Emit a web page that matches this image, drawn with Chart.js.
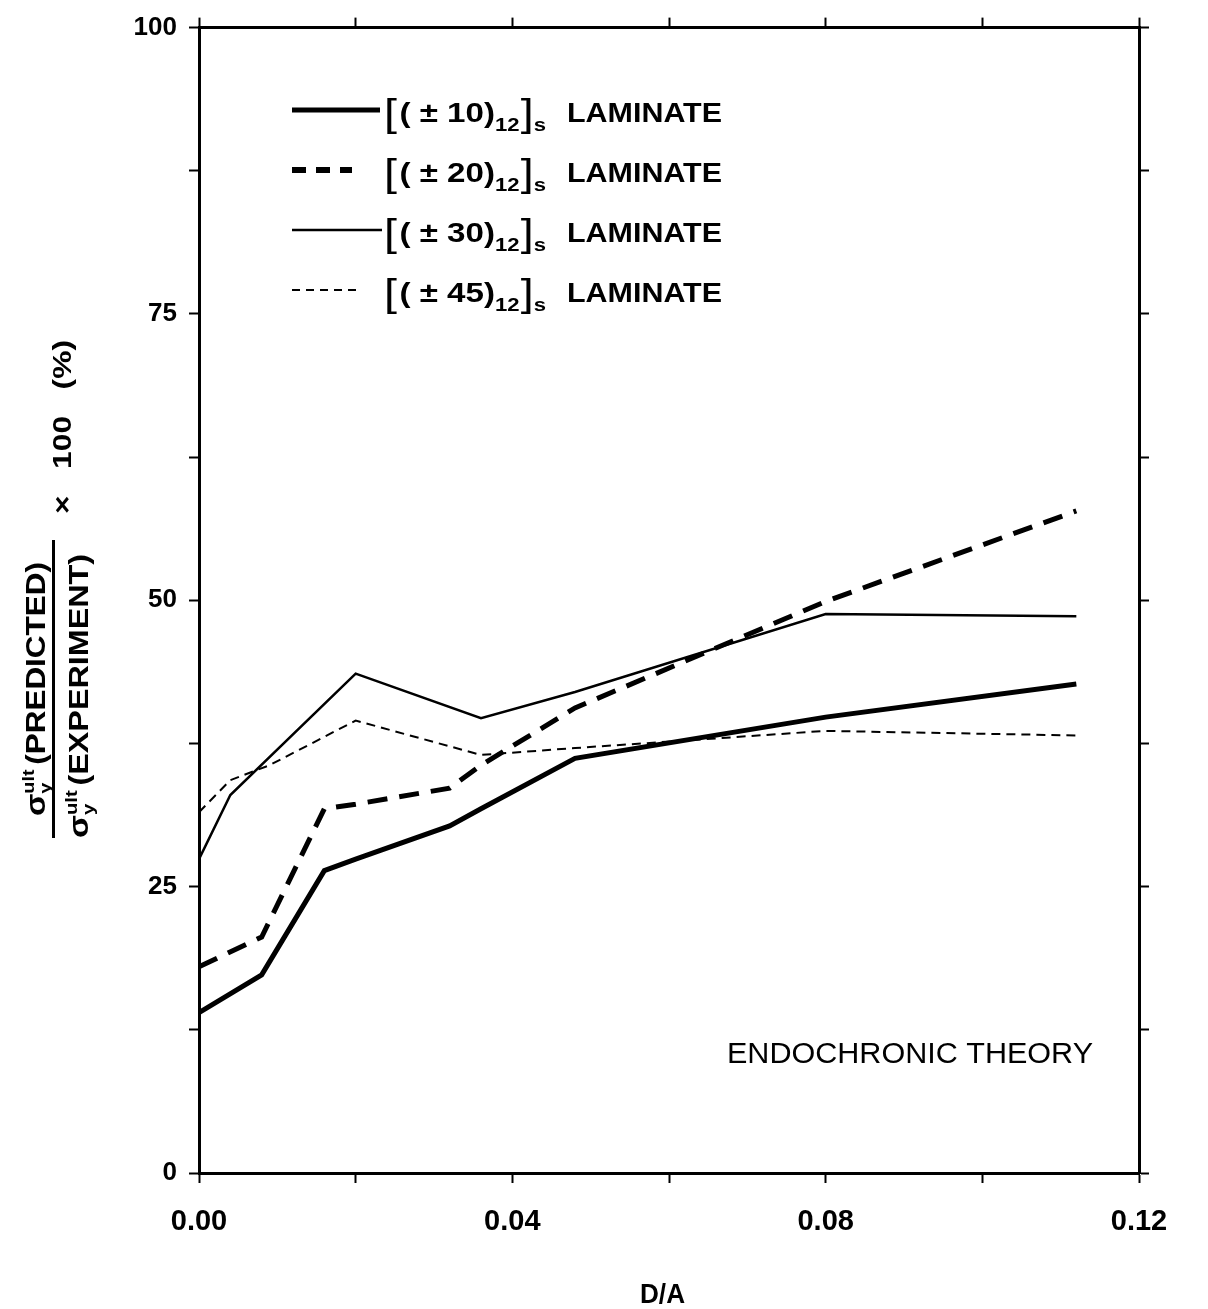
<!DOCTYPE html>
<html>
<head>
<meta charset="utf-8">
<script src="https://cdn.jsdelivr.net/npm/chart.js@4.4.1/dist/chart.umd.min.js"></script>
<style>
  html, body { margin: 0; padding: 0; background: #fff; }
  #wrap { width: 1208px; height: 1309px; position: relative; }
  canvas { display: block; }
</style>
</head>
<body>
<div id="wrap"><canvas id="c" width="1208" height="1309"></canvas></div>
<script>
// ---------- DATA ----------
const angles = ['10', '20', '30', '45'];

const x10 = [0.000, 0.008, 0.016, 0.020, 0.032, 0.036, 0.048, 0.080, 0.112];
const y10 = [14.0, 17.3, 26.4, 27.4, 30.3, 31.8, 36.2, 39.8, 42.7];

const x20 = [0.000, 0.008, 0.016, 0.020, 0.032, 0.036, 0.048, 0.080, 0.112];
const y20 = [18.0, 20.6, 31.8, 32.2, 33.6, 35.6, 40.6, 49.9, 57.8];

const x30 = [0.000, 0.004, 0.020, 0.036, 0.048, 0.080, 0.112];
const y30 = [27.4, 33.0, 43.6, 39.7, 42.0, 48.8, 48.6];

const x45 = [0.000, 0.004, 0.009, 0.020, 0.036, 0.048, 0.080, 0.112];
const y45 = [31.5, 34.3, 35.6, 39.5, 36.5, 37.1, 38.6, 38.2];

const xTitle = 'D/A';
const noteText = 'ENDOCHRONIC THEORY';
const xMin = 0, xMax = 0.12, xStep = 0.02;
const yMin = 0, yMax = 100, yStep = 12.5;

// ---------- helpers ----------
const pts = (xs, ys) => xs.map((x, i) => ({ x: x, y: ys[i] }));
const FONT = '"Liberation Sans", Arial, Helvetica, sans-serif';
const NARROW = FONT;

function measureParts(ctx, parts) {
  let w = 0;
  for (const p of parts) {
    ctx.font = p.font;
    if (p.stack) {
      p.w = Math.max(...p.stack.map(s => ctx.measureText(s.t).width));
    } else {
      p.w = ctx.measureText(p.t).width;
    }
    w += p.w + (p.gap || 0);
  }
  return w;
}
function drawParts(ctx, parts, x, y, target) {
  const w = measureParts(ctx, parts);
  ctx.save();
  ctx.translate(x, y);
  if (target) ctx.scale(target / w, 1);
  ctx.textBaseline = 'alphabetic';
  ctx.textAlign = 'left';
  let cx = 0;
  for (const p of parts) {
    ctx.font = p.font;
    if (p.stack) {
      for (const s of p.stack) ctx.fillText(s.t, cx, s.dy || 0);
    } else {
      ctx.fillText(p.t, cx, p.dy || 0);
    }
    cx += p.w + (p.gap || 0);
  }
  ctx.restore();
}

// ---------- decorations plugin ----------
const legendDash = [[], [14, 10], [], [8, 6]];
const legendLen = [88, 60, 90, 66];
const legendY = [110, 170, 230, 290];

const deco = {
  id: 'deco',
  afterDraw(chart) {
    const ctx = chart.ctx;
    ctx.save();
    ctx.fillStyle = '#000';
    ctx.strokeStyle = '#000';

    // legend
    chart.data.datasets.forEach((ds, i) => {
      const y = legendY[i];
      ctx.save();
      ctx.lineWidth = ds.borderWidth + (i === 1 ? 1 : 0);
      ctx.setLineDash(legendDash[i]);
      ctx.beginPath();
      ctx.moveTo(292, y);
      ctx.lineTo(292 + legendLen[i], y);
      ctx.stroke();
      ctx.restore();
      const parts = [
        { t: '[', font: '38px ' + FONT, dy: 4, gap: 2 },
        { t: '( \u00B1 ' + angles[i] + ')', font: 'bold 27px ' + FONT },
        { t: '12', font: 'bold 18px ' + FONT, dy: 9, gap: 1 },
        { t: ']', font: '38px ' + FONT, dy: 4 },
        { t: 's', font: 'bold 18px ' + FONT, dy: 9 }
      ];
      drawParts(ctx, parts, 384, y + 12, 162);
      drawParts(ctx, [{ t: 'LAMINATE', font: 'bold 28px ' + FONT }], 567, y + 12, 155);
    });

    // note
    drawParts(ctx, [{ t: noteText, font: '30px ' + FONT }], 727, 1063, 366);

    // x title
    drawParts(ctx, [{ t: xTitle, font: 'bold 28px ' + NARROW }], 640, 1303, 45);

    // y title (rotated)
    ctx.save();
    ctx.rotate(-Math.PI / 2);
    const sig = (word) => [
      { t: '\u03C3', font: 'bold 28px ' + NARROW },
      { stack: [{ t: 'ult', dy: -11 }, { t: 'y', dy: 6 }], font: 'bold 17px ' + NARROW, gap: 4 },
      { t: word, font: 'bold 27px ' + NARROW }
    ];
    drawParts(ctx, sig('(PREDICTED)'), -816, 45, 254);
    drawParts(ctx, sig('(EXPERIMENT)'), -838, 88, 284);
    drawParts(ctx, [{ t: '\u00D7   100   (%)', font: 'bold 26px ' + NARROW }], -514, 71, 174);
    ctx.restore();
    ctx.fillRect(52, 540, 3, 298);

    ctx.restore();
  }
};

// ---------- chart ----------
const axisCommon = {
  type: 'linear',
  grid: { display: true, drawOnChartArea: false, drawTicks: true, tickLength: 10, tickWidth: 2, color: '#000' },
  border: { display: true, width: 3, color: '#000' }
};

new Chart(document.getElementById('c'), {
  type: 'line',
  data: {
    datasets: [
      { label: '[(±10)12]s LAMINATE', data: pts(x10, y10), borderColor: '#000', borderWidth: 5, borderDash: [], pointRadius: 0, tension: 0, fill: false },
      { label: '[(±20)12]s LAMINATE', data: pts(x20, y20), borderColor: '#000', borderWidth: 5, borderDash: [20, 12], pointRadius: 0, tension: 0, fill: false },
      { label: '[(±30)12]s LAMINATE', data: pts(x30, y30), borderColor: '#000', borderWidth: 2.5, borderDash: [], pointRadius: 0, tension: 0, fill: false },
      { label: '[(±45)12]s LAMINATE', data: pts(x45, y45), borderColor: '#000', borderWidth: 2, borderDash: [9, 6], pointRadius: 0, tension: 0, fill: false }
    ]
  },
  options: {
    responsive: false,
    animation: false,
    layout: { padding: 0 },
    plugins: { legend: { display: false }, tooltip: { enabled: false } },
    scales: {
      x: Object.assign({}, axisCommon, {
        position: 'bottom', min: xMin, max: xMax,
        ticks: {
          stepSize: xStep, autoSkip: false, maxRotation: 0, color: '#000', padding: 22,
          font: { family: FONT, size: 29, weight: 'bold' },
          callback: (v) => { const k = Math.round(v * 100); return k % 4 === 0 ? (k / 100).toFixed(2) : ''; }
        },
        afterFit: (s) => { s.height = 136; }
      }),
      x2: Object.assign({}, axisCommon, {
        position: 'top', min: xMin, max: xMax,
        ticks: { stepSize: xStep, autoSkip: false, maxRotation: 0, callback: () => '' },
        afterFit: (s) => { s.height = 21; }
      }),
      y: Object.assign({}, axisCommon, {
        position: 'left', min: yMin, max: yMax,
        ticks: {
          stepSize: yStep, autoSkip: false, color: '#000', padding: 12,
          font: { family: FONT, size: 26, weight: 'bold' },
          callback: (v) => (Math.abs(v % 25) < 1e-6 ? String(v) : '')
        },
        afterFit: (s) => { s.width = 199; }
      }),
      y2: Object.assign({}, axisCommon, {
        position: 'right', min: yMin, max: yMax,
        ticks: { stepSize: yStep, autoSkip: false, callback: () => '' },
        afterFit: (s) => { s.width = 69; }
      })
    }
  },
  plugins: [deco]
});
</script>
</body>
</html>
